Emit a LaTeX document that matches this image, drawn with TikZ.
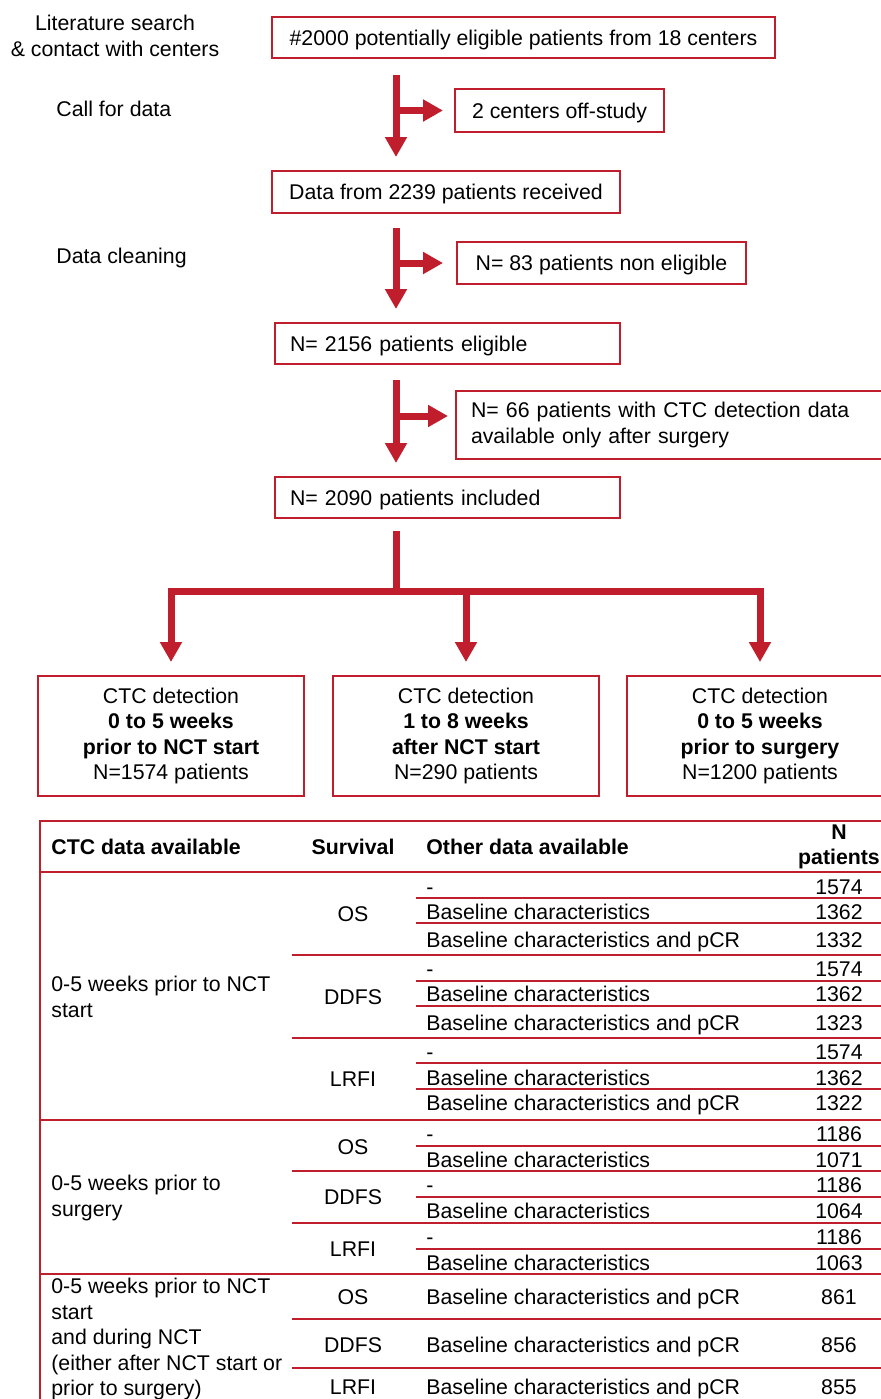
\documentclass[tikz,border=0pt]{standalone}
\usepackage{fontspec}
\setmainfont{Liberation Sans}
\usetikzlibrary{arrows.meta,positioning,calc}
\definecolor{ctcred}{RGB}{193,30,45}

\begin{document}
\begin{tikzpicture}[x=0.5pt, y=-0.5pt, font=\fontsize{10.65pt}{12.75pt}\selectfont]
  \tikzstyle{block} = [draw=ctcred, line width=1pt, rectangle, inner sep=0pt]
  \tikzstyle{oneline} = [text height=7.6pt, text depth=0pt]
  \tikzstyle{cell} = [inner sep=0pt, text height=7.6pt, text depth=0pt]
  \tikzstyle{flow} = [draw=ctcred, line width=3.5pt, -{Triangle[length=10pt, width=10.5pt]}]
  \tikzstyle{tabline} = [draw=ctcred, line width=1.35pt]

  \path[use as bounding box, clip] (0,0) rectangle (881,1399);

  % steps on the left
  \node[align=center, inner sep=0pt] (lit) at (115,36) {Literature search\\\& contact with centers};
  \node[cell, anchor=west] (call) at (56,109) {Call for data};
  \node[cell, anchor=west] (clean) at (56,256) {Data cleaning};

  % flow boxes
  \node[block, oneline, minimum width=251.5pt, minimum height=20.5pt] (search) at (523.5,37.5) {\#2000 potentially eligible patients from 18 centers};
  \node[block, oneline, minimum width=104.5pt, minimum height=21.5pt] (offstudy) at (559.5,110.5) {2 centers off-study};
  \node[block, oneline, minimum width=174pt, minimum height=21pt] (received) at (446,192) {Data from 2239 patients received};
  \node[block, oneline, minimum width=144.5pt, minimum height=21pt] (nonelig) at (601.5,263) {N= 83 patients non eligible};
  \node[block, oneline, text width=157.5pt, inner xsep=7.5pt, align=left, minimum height=20.5pt] (eligible) at (447.5,343.5) {N= 2156 patients eligible};
  \node[block, text width=203.5pt, inner xsep=7.5pt, align=left, minimum height=34pt] (aftersurg) at (674.5,425) {N= 66 patients with CTC detection data\\available only after surgery};
  \node[block, oneline, text width=157.5pt, inner xsep=7.5pt, align=left, minimum height=20.5pt] (included) at (447.5,497.5) {N= 2090 patients included};

  \node[block, minimum width=133pt, minimum height=60pt, align=center] (prenct) at (171,736) {CTC detection\\\textbf{0 to 5 weeks}\\\textbf{prior to NCT start}\\N=1574 patients};
  \node[block, minimum width=133pt, minimum height=60pt, align=center] (duringnct) at (466,736) {CTC detection\\\textbf{1 to 8 weeks}\\\textbf{after NCT start}\\N=290 patients};
  \node[block, minimum width=133pt, minimum height=60pt, align=center] (presurg) at (760,736) {CTC detection\\\textbf{0 to 5 weeks}\\\textbf{prior to surgery}\\N=1200 patients};

  % arrows
  \coordinate (spine) at (396,0);
  \draw[flow, shorten <=8pt, shorten >=6.5pt] (spine |- search.south) -- (spine |- received.north);
  \draw[flow, shorten >=5.5pt] (spine |- offstudy.west) -- (offstudy.west);
  \draw[flow, shorten <=7pt, shorten >=6.5pt] (spine |- received.south) -- (spine |- eligible.north);
  \draw[flow, shorten >=6.5pt] (spine |- nonelig.west) -- (nonelig.west);
  \draw[flow, shorten <=7.5pt, shorten >=6.5pt] (spine |- eligible.south) -- (spine |- included.north);
  \coordinate (side3) at (396,416);
  \draw[flow, shorten >=3.5pt] (side3) -- (side3 -| aftersurg.west);
  \coordinate (split) at (396,591);
  \draw[draw=ctcred, line width=3.5pt, shorten <=6pt] (spine |- included.south) -- (split);
  \draw[flow, shorten >=6.5pt] (split) -| (prenct.north);
  \draw[flow, shorten >=6.5pt] (split -| duringnct.north) -- (duringnct.north);
  \draw[flow, shorten >=6.5pt] (split) -| (presurg.north);

  % table
  \draw[tabline] (40,1410) -- (40,821) -- (900,821);
  \foreach \y in {872,1120,1274} \draw[tabline] (40,\y) -- (900,\y);
  \foreach \y in {955,1038,1171,1223,1319,1368} \draw[tabline] (292,\y) -- (900,\y);
  \foreach \y in {898,923,981,1006,1063,1089,1146,1197,1249} \draw[tabline] (416,\y) -- (900,\y);

  \node[cell, anchor=west] (hctc) at (51,847) {\bfseries CTC data available};
  \node[cell] (hsurv) at (353,847) {\bfseries Survival};
  \node[cell, anchor=west] (hother) at (426,847) {\bfseries Other data available};
  \node[align=center, inner sep=0pt] (hnum) at (839,847) {\textbf{N}\\\textbf{patients}};

  \node[align=left, anchor=west, inner sep=0pt] (grp1) at (51,997) {0-5 weeks prior to NCT\\start};
  \node[align=left, anchor=west, inner sep=0pt] (grp2) at (51,1198) {0-5 weeks prior to\\surgery};
  \node[align=left, anchor=west, inner sep=0pt] (grp3) at (51,1339) {0-5 weeks prior to NCT\\start\\and during NCT\\(either after NCT start or\\prior to surgery)};

  \foreach \y/\surv [count=\i] in {914/OS, 997/DDFS, 1079/LRFI, 1147/OS, 1197/DDFS, 1249/LRFI, 1297/OS, 1345/DDFS, 1387/LRFI}
    \node[cell] (surv\i) at (353,\y) {\surv};

  \foreach \y/\other/\n [count=\i] in {887/-/1574, 912/Baseline characteristics/1362, 940/Baseline characteristics and pCR/1332,
      969/-/1574, 994/Baseline characteristics/1362, 1023/Baseline characteristics and pCR/1323,
      1052/-/1574, 1078/Baseline characteristics/1362, 1103/Baseline characteristics and pCR/1322,
      1134/-/1186, 1160/Baseline characteristics/1071, 1185/-/1186, 1211/Baseline characteristics/1064,
      1237/-/1186, 1263/Baseline characteristics/1063,
      1297/Baseline characteristics and pCR/861, 1345/Baseline characteristics and pCR/856, 1387/Baseline characteristics and pCR/855} {
    \node[cell, anchor=west] (other\i) at (426,\y) {\other};
    \node[cell] (num\i) at (839,\y) {\n};
  }
\end{tikzpicture}
\end{document}
